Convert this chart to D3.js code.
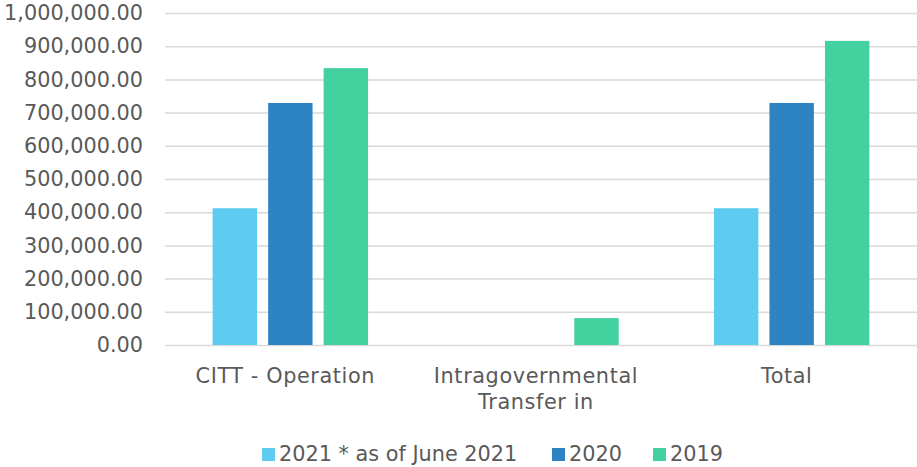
<!DOCTYPE html>
<html><head><meta charset="utf-8">
<script src="https://cdn.jsdelivr.net/npm/d3@7"></script>
<style>body{margin:0;background:#fff;} text{font-family:"DejaVu Sans",sans-serif;fill:#595959;}</style>
</head><body><svg id="c" width="917" height="467"></svg>
<script>
const categories = [["CITT - Operation"], ["Intragovernmental", "Transfer in"], ["Total"]];
const categoryKeys = ["CITT - Operation", "Intragovernmental Transfer in", "Total"];
const seriesNames = ["2021 * as of June 2021", "2020", "2019"];
const values2021 = [412000, 0, 412000];
const values2020 = [729000, 0, 729000];
const values2019 = [834000, 81000, 916000];
const yTicks = [0,100000,200000,300000,400000,500000,600000,700000,800000,900000,1000000];
const colors = ["#5ecbf0", "#2e83c3", "#43d1a0"];

(function(){
const series = [values2021, values2020, values2019];
const svg = d3.select("#c");
const mLeft = 165, mRight = 917, mTop = 13, mBottom = 345;
const fs = 20.8;
const y = d3.scaleLinear().domain([0, 1000000]).range([mBottom, mTop]);
const x0 = d3.scaleBand().domain(categoryKeys).range([mLeft, mRight]);
const bw = x0.bandwidth();
const x1 = d3.scaleBand().domain(seriesNames).range([bw*0.19, bw*0.81]).paddingInner(0.2).paddingOuter(0);

const yAxis = d3.axisLeft(y).tickValues(yTicks).tickSize(-(mRight-mLeft)).tickFormat(d3.format(",.2f"));
const g = svg.append("g").attr("transform", `translate(${mLeft},0)`).call(yAxis);
g.select(".domain").remove();
g.selectAll(".tick line").attr("stroke", "#d9d9d9").attr("stroke-width", 1.5);
g.selectAll(".tick text").attr("x", -22).attr("font-size", fs).style("fill","#595959").attr("font-family", "DejaVu Sans");

categoryKeys.forEach((c, i) => {
  series.forEach((vals, s) => {
    if (vals[i] <= 0) return;
    svg.append("rect")
      .attr("x", x0(c) + x1(seriesNames[s]))
      .attr("width", x1.bandwidth())
      .attr("y", y(vals[i]))
      .attr("height", y(0) - y(vals[i]))
      .attr("fill", colors[s]);
  });
});

categoryKeys.forEach((c, i) => {
  const cx = x0(c) + bw/2 - 5;
  const t = svg.append("text").attr("text-anchor", "middle").attr("font-size", fs)
    .attr("letter-spacing", 0.6)
    .attr("x", cx);
  categories[i].forEach((line, j) => {
    t.append("tspan").attr("x", cx).attr("y", 383 + j*26).text(line);
  });
});

const legendX = [262, 552, 653];
seriesNames.forEach((n, s) => {
  svg.append("rect").attr("x", legendX[s]).attr("y", 448).attr("width", 13).attr("height", 13).attr("fill", colors[s]);
  svg.append("text").attr("x", legendX[s] + 17).attr("y", 461).attr("font-size", fs).text(n);
});
})();
</script></body></html>
